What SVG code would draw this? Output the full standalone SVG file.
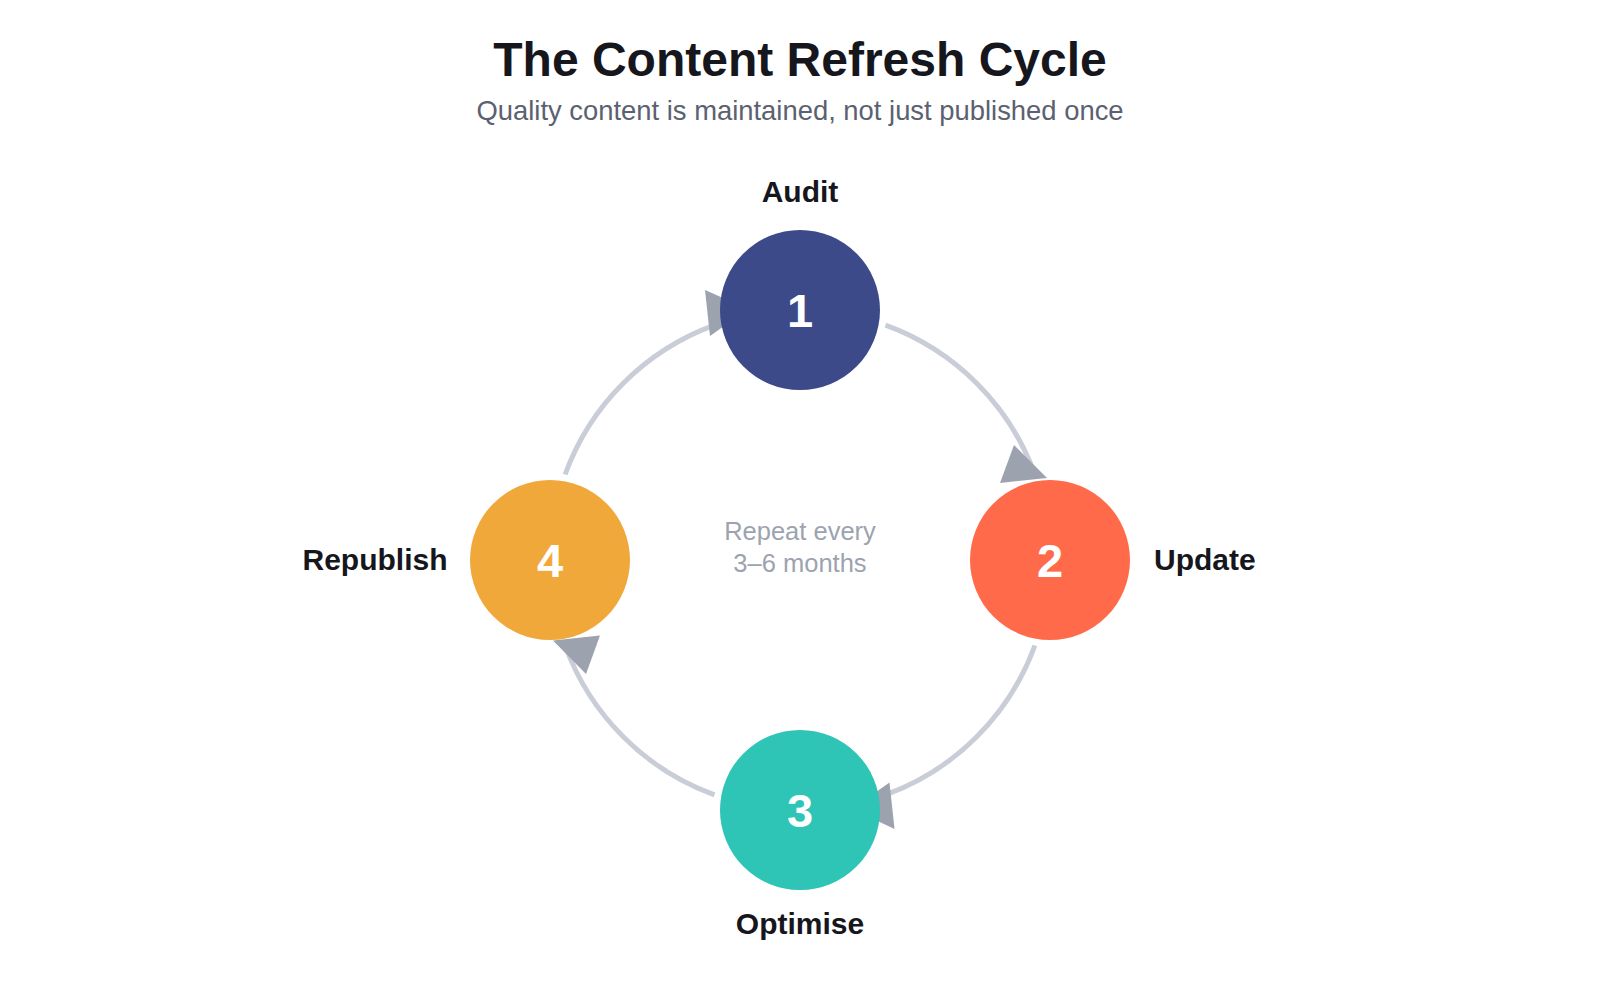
<svg xmlns="http://www.w3.org/2000/svg" width="1600" height="1000" viewBox="0 0 1600 1000">
  <style>
    .title { font-family: "Liberation Sans", Arial, sans-serif; font-weight: 700; font-size: 48px; fill: #16161d; text-anchor: middle; }
    .subtitle { font-family: "Liberation Sans", Arial, sans-serif; font-size: 27.4px; fill: #5b6170; text-anchor: middle; }
    .arc { fill: none; stroke: #c9cdd8; stroke-width: 5; }
    .arrowhead { fill: #9ca3af; }
    .num { font-family: "Liberation Sans", Arial, sans-serif; font-weight: 700; font-size: 47px; fill: #ffffff; text-anchor: middle; }
    .label { font-family: "Liberation Sans", Arial, sans-serif; font-weight: 700; font-size: 30px; fill: #16161d; }
    .center { font-family: "Liberation Sans", Arial, sans-serif; font-size: 25.5px; fill: #9ca3af; text-anchor: middle; }
  </style>
  <rect width="1600" height="1000" fill="#ffffff"/>
  <text class="title" x="800" y="76">The Content Refresh Cycle</text>
  <text class="subtitle" x="800" y="120">Quality content is maintained, not just published once</text>

  <g id="connectors">
    <path class="arc" d="M885.5,325.1 A250,250 0 0 1 1034.9,474.5"/>
    <path class="arc" d="M1034.9,645.5 A250,250 0 0 1 885.5,794.9"/>
    <path class="arc" d="M714.5,794.9 A250,250 0 0 1 565.1,645.5"/>
    <path class="arc" d="M565.1,474.5 A250,250 0 0 1 714.5,325.1"/>
    <polygon class="arrowhead" points="1014,445 1000,483 1047,478"/>
    <polygon class="arrowhead" points="889.5,782.5 894.5,829 852,809"/>
    <polygon class="arrowhead" points="586,674 600,635.5 553,640.5"/>
    <polygon class="arrowhead" points="705,290 710,336 748,309"/>
  </g>

  <g id="node-1">
    <circle cx="800" cy="310" r="80" fill="#3c4a8a"/>
    <text class="num" x="800" y="327">1</text>
    <text class="label" x="800" y="202" text-anchor="middle">Audit</text>
  </g>
  <g id="node-2">
    <circle cx="1050" cy="560" r="80" fill="#ff6b4a"/>
    <text class="num" x="1050" y="577">2</text>
    <text class="label" x="1154" y="570">Update</text>
  </g>
  <g id="node-3">
    <circle cx="800" cy="810" r="80" fill="#2ec4b6"/>
    <text class="num" x="800" y="827">3</text>
    <text class="label" x="800" y="934" text-anchor="middle">Optimise</text>
  </g>
  <g id="node-4">
    <circle cx="550" cy="560" r="80" fill="#f1a83b"/>
    <text class="num" x="550" y="577">4</text>
    <text class="label" x="447.5" y="570" text-anchor="end">Republish</text>
  </g>

  <g id="center-note">
    <text class="center" x="800" y="540">Repeat every</text>
    <text class="center" x="800" y="572">3–6 months</text>
  </g>
</svg>
